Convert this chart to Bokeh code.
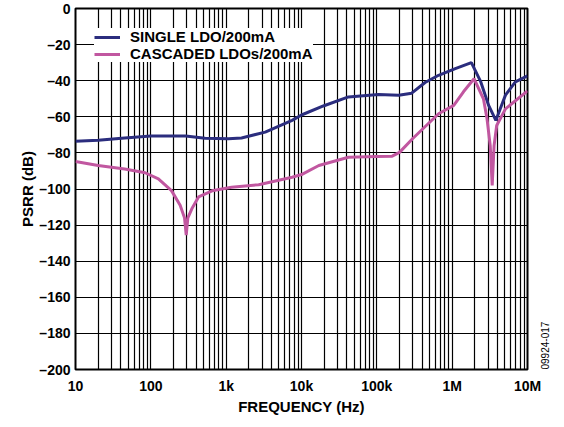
import math
from bokeh.plotting import figure
from bokeh.models import (Range1d, FixedTicker, CustomJSTickFormatter, Legend,
                          LegendItem, LinearAxis)
from bokeh.embed import file_html
from bokeh.resources import INLINE

# ---- data -----------------------------------------------------------------
single_freq = [10, 20, 45, 100, 290, 525, 1070, 1600, 3300, 7500, 10000, 19500,
               42000, 105000, 195000, 290000, 437000, 660000, 1.1e6, 1.8e6,
               2.4e6, 3.05e6, 3.8e6, 4.4e6, 5.1e6, 6.9e6, 1e7]
single_psrr = [-73.5, -73.0, -71.7, -70.7, -70.7, -71.9, -72.2, -71.7, -68.5,
               -62.0, -59.0, -54.0, -49.0, -47.6, -48.1, -46.9, -41.0, -37.0,
               -33.3, -30.0, -40.7, -53.7, -62.0, -55.0, -48.0, -40.7, -37.3]

casc_freq = [10, 20, 45, 84, 126, 188, 245, 280, 295, 310, 350, 430, 650, 1180,
             2700, 7500, 10000, 17000, 42000, 100000, 160000, 200000, 300000,
             660000, 1.05e6, 1.42e6, 1.95e6, 2.6e6, 2.9e6, 3.2e6, 3.4e6, 3.6e6,
             3.9e6, 5.1e6, 1e7]
casc_psrr = [-84.8, -87.0, -88.9, -91.0, -94.4, -100.9, -109.0, -116.0, -125.5,
             -116.0, -111.0, -104.4, -101.0, -99.0, -97.6, -93.5, -92.0, -87.0,
             -82.4, -82.0, -81.8, -79.7, -72.0, -58.3, -53.7, -46.0, -38.9,
             -50.0, -61.0, -76.0, -98.0, -76.0, -64.8, -55.6, -45.7]

x_major_ticks = [10, 100, 1000, 10000, 100000, 1000000, 10000000]
x_tick_labels = ["10", "100", "1k", "10k", "100k", "1M", "10M"]
y_ticks = list(range(-200, 1, 20))

series_names = ["SINGLE LDO/200mA", "CASCADED LDOs/200mA"]
series_colors = ["#2B2D7E", "#C157A0"]
side_text = "09924-017"

FONT = "Liberation Sans"

# ---- figure ---------------------------------------------------------------
p = figure(width=556, height=417, x_axis_type="log",
           x_range=Range1d(10, 1e7), y_range=Range1d(-200, 0),
           output_backend="svg", toolbar_location=None,
           min_border_left=75, min_border_right=29,
           min_border_top=8, min_border_bottom=46)

p.outline_line_color = "black"
p.outline_line_width = 2
p.background_fill_color = "white"
p.border_fill_color = "white"

minor = [k * d for d in x_major_ticks[:-1] for k in range(2, 10)]
p.xaxis.ticker = FixedTicker(ticks=x_major_ticks, minor_ticks=minor)
p.yaxis.ticker = FixedTicker(ticks=y_ticks)

label_map = {str(t): l for t, l in zip(x_major_ticks, x_tick_labels)}
p.xaxis.formatter = CustomJSTickFormatter(args=dict(m=label_map), code="""
    const k = String(Math.round(tick));
    return (k in m) ? m[k] : "";
""")
p.yaxis.formatter = CustomJSTickFormatter(code="""
    return tick < 0 ? "\u2013" + Math.abs(tick) : String(tick);
""")

for ax in (p.xaxis[0], p.yaxis[0]):
    ax.axis_line_color = None
    ax.major_tick_line_color = None
    ax.minor_tick_line_color = None
    ax.major_tick_out = 0
    ax.major_tick_in = 0
    ax.minor_tick_out = 0
    ax.minor_tick_in = 0
    ax.major_label_text_font = FONT
    ax.major_label_text_font_style = "bold"
    ax.major_label_text_font_size = "14px"
    ax.major_label_text_color = "black"
    ax.axis_label_text_font = FONT
    ax.axis_label_text_font_style = "bold"
    ax.axis_label_text_font_size = "15px"
    ax.axis_label_text_color = "black"

p.xaxis.axis_label = "FREQUENCY (Hz)"
p.yaxis.axis_label = "PSRR (dB)"
p.xaxis.major_label_standoff = 8
p.yaxis.major_label_standoff = 5
p.xaxis.axis_label_standoff = 1
p.yaxis.axis_label_standoff = 0

p.xgrid.grid_line_color = "black"
p.xgrid.grid_line_width = 1.2
p.xgrid.minor_grid_line_color = "black"
p.xgrid.minor_grid_line_width = 1.2
p.ygrid.grid_line_color = "black"
p.ygrid.grid_line_width = 1.2

r1 = p.line(single_freq, single_psrr, line_color=series_colors[0], line_width=3)
r2 = p.line(casc_freq, casc_psrr, line_color=series_colors[1], line_width=3)

legend = Legend(items=[LegendItem(label=series_names[0], renderers=[r1]),
                       LegendItem(label=series_names[1], renderers=[r2])],
                location=(19, 307))
legend.background_fill_color = "white"
legend.background_fill_alpha = 1.0
legend.border_line_color = None
legend.padding = 5
legend.spacing = 0
legend.margin = 0
legend.label_height = 16
legend.glyph_height = 16
legend.glyph_width = 26
legend.label_standoff = 10
legend.label_text_font = FONT
legend.label_text_font_style = "bold"
legend.label_text_font_size = "15px"
legend.label_text_color = "black"
p.add_layout(legend, "center")

# small rotated figure code at lower right, as the only tick label of an
# otherwise invisible right axis
p.extra_y_ranges = {"side": Range1d(0, 1)}
side_axis = LinearAxis(y_range_name="side", ticker=FixedTicker(ticks=[0]),
                       formatter=CustomJSTickFormatter(
                           args=dict(t=side_text), code="return t;"))
side_axis.axis_line_color = None
side_axis.major_tick_line_color = None
side_axis.minor_tick_line_color = None
side_axis.major_tick_out = 0
side_axis.major_tick_in = 0
side_axis.minor_tick_out = 0
side_axis.minor_tick_in = 0
side_axis.major_label_orientation = math.pi / 2
side_axis.major_label_standoff = 17
side_axis.major_label_text_font = FONT
side_axis.major_label_text_font_size = "10px"
side_axis.major_label_text_color = "black"
p.add_layout(side_axis, "right")

open("out.html", "w").write(file_html(p, INLINE))
